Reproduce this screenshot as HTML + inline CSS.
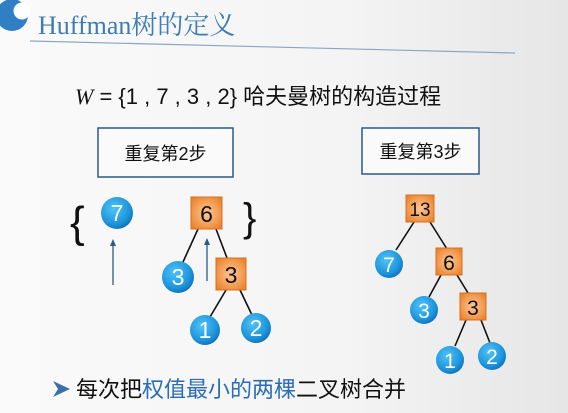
<!DOCTYPE html>
<html><head><meta charset="utf-8"><style>
html,body{margin:0;padding:0;}
body{width:568px;height:413px;overflow:hidden;background:linear-gradient(90deg,#fafafa 0%,#f4f4f4 60%,#e6e6e6 100%);}
</style></head><body>
<svg width="568" height="413" viewBox="0 0 568 413" xmlns="http://www.w3.org/2000/svg" style="position:absolute;left:0;top:0">
<defs>
<radialGradient id="cb" cx="0.4" cy="0.35" r="0.7">
<stop offset="0" stop-color="#4fc3f7"/><stop offset="0.7" stop-color="#1e95dc"/><stop offset="1" stop-color="#0d6fb5"/>
</radialGradient>
<radialGradient id="sq" cx="0.5" cy="0.5" r="0.7">
<stop offset="0" stop-color="#fbc79a"/><stop offset="0.6" stop-color="#f29a4e"/><stop offset="1" stop-color="#e57a25"/>
</radialGradient>
</defs>
<!-- logo -->
<circle cx="12" cy="15" r="16" fill="#2f7fc4"/>
<circle cx="22" cy="11" r="8.5" fill="#fff"/>
<text x="38" y="34" font-family="Liberation Serif, 'Noto Serif CJK SC', serif" font-size="26" fill="#3c7db5">Huffman树的定义</text>
<line x1="30" y1="41" x2="515" y2="53" stroke="#8aa6c4" stroke-width="1.2"/>
<text x="75" y="104" font-family="Liberation Sans, 'Noto Sans CJK SC', sans-serif" font-size="22" fill="#111"><tspan font-family="Liberation Serif, serif" font-style="italic">W</tspan> = {1 , 7 , 3 , 2} 哈夫曼树的构造过程</text>
<rect x="98" y="128" width="135" height="49" fill="#fafafa" stroke="#2b5a8a" stroke-width="1.5"/>
<text x="165.5" y="160" text-anchor="middle" font-family="Liberation Sans, 'Noto Sans CJK SC', sans-serif" font-size="18" fill="#111">重复第2步</text>
<rect x="362" y="128" width="117" height="46" fill="#fafafa" stroke="#2b5a8a" stroke-width="1.5"/>
<text x="420.5" y="158" text-anchor="middle" font-family="Liberation Sans, 'Noto Sans CJK SC', sans-serif" font-size="18" fill="#111">重复第3步</text>
<!-- braces -->
<text x="70" y="237" font-family="Liberation Sans, sans-serif" font-size="44" fill="#111">{</text>
<text x="243" y="231" font-family="Liberation Sans, sans-serif" font-size="40" fill="#111">}</text>
<g stroke="#111" stroke-width="1.6">
<line x1="198" y1="229" x2="183" y2="262"/><line x1="216" y1="229" x2="227" y2="258"/>
<line x1="226" y1="290" x2="210" y2="317"/><line x1="240" y1="290" x2="252" y2="315"/>
<line x1="414" y1="222" x2="396" y2="250"/><line x1="430" y1="222" x2="447" y2="249"/>
<line x1="441" y1="275" x2="429" y2="297"/><line x1="457" y1="275" x2="468" y2="293"/>
<line x1="466" y1="320" x2="455" y2="346"/><line x1="481" y1="320" x2="490" y2="343"/>
</g>
<!-- arrows -->
<g stroke="#2b5a8a" stroke-width="1.3" fill="#2b5a8a">
<line x1="113" y1="285" x2="113" y2="244"/><path d="M110,246 L113,239 L116,246Z" stroke="none"/>
<line x1="207" y1="281" x2="207" y2="243"/><path d="M204,245 L207,238 L210,245Z" stroke="none"/>
</g>
<g font-family="Liberation Sans, sans-serif" font-size="23" text-anchor="middle">
<circle cx="117" cy="213" r="16" fill="url(#cb)"/><text x="117" y="221" fill="#fff">7</text>
<rect x="191" y="197" width="31" height="32" fill="url(#sq)" stroke="#d8701c"/><text x="206.5" y="222" fill="#111">6</text>
<circle cx="178" cy="277" r="16" fill="url(#cb)"/><text x="178" y="285" fill="#fff">3</text>
<rect x="216" y="258" width="30" height="32" fill="url(#sq)" stroke="#d8701c"/><text x="231" y="283" fill="#111">3</text>
<circle cx="205" cy="330" r="15" fill="url(#cb)"/><text x="205" y="338" fill="#fff">1</text>
<circle cx="256" cy="328" r="15" fill="url(#cb)"/><text x="256" y="336" fill="#fff">2</text>

<rect x="406" y="195" width="28" height="27" fill="url(#sq)" stroke="#d8701c"/><text x="420" y="216" fill="#111" font-size="19">13</text>
<circle cx="389" cy="264" r="14" fill="url(#cb)"/><text x="389" y="272" fill="#fff" font-size="21">7</text>
<rect x="436" y="248" width="26" height="27" fill="url(#sq)" stroke="#d8701c"/><text x="449" y="270" fill="#111" font-size="21">6</text>
<circle cx="424" cy="310" r="14" fill="url(#cb)"/><text x="424" y="318" fill="#fff" font-size="21">3</text>
<rect x="460" y="293" width="26" height="27" fill="url(#sq)" stroke="#d8701c"/><text x="473" y="315" fill="#111" font-size="21">3</text>
<circle cx="450" cy="360" r="14" fill="url(#cb)"/><text x="450" y="368" fill="#fff" font-size="21">1</text>
<circle cx="492" cy="356" r="14" fill="url(#cb)"/><text x="492" y="364" fill="#fff" font-size="21">2</text>
</g>
<!-- bullet -->
<path d="M53,381 L70,389 L53,397 L58,389Z" fill="#3a6fa8"/>
<text x="76" y="397" font-family="Liberation Sans, 'Noto Sans CJK SC', sans-serif" font-size="22" fill="#111">每次把<tspan fill="#2a6db5">权值最小的两棵</tspan>二叉树合并</text>
</svg>
</body></html>
